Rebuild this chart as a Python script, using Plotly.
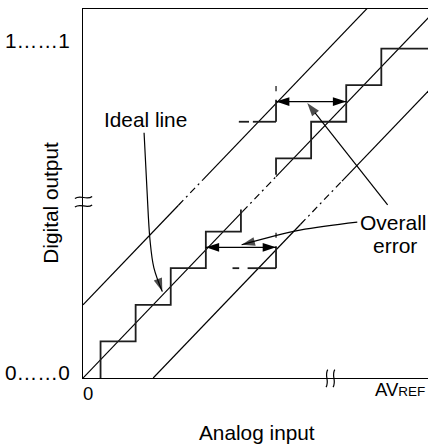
import plotly.graph_objects as go

# ---- axis extent, in LSB (x) and output codes (y) ----
X_MAX = 9.83
Y_MAX = 10.08

# ---- ideal conversion staircase: code k is entered at input k - 0.5 LSB ----
low_step_x = [0.5, 1.5, 2.5, 3.5, 4.5, 4.5]
low_step_code = [0, 1, 2, 3, 4, 4.6]
high_step_x = [5.5, 6.5, 7.5, 8.5, 10.5]
high_step_code = [5.55, 6, 7, 8, 9]

# ---- transfer lines: ideal and the +/- overall error limits (LSB offsets) ----
line_offsets = [0, 2, -2]
# input range (LSB) over which each line is drawn broken (axis break zone)
break_spans = [(4.55, 5.5), (2.72, 3.42), (6.2, 7.38)]

# ---- overall error brackets: (code level, from input, to input) ----
error_brackets = [(7.55, 5.5, 7.5), (3.57, 3.5, 5.5)]

# ---- shifted stair corners illustrating the error: (code, dash, solid, riser, tick) ----
shifted_corners = [
    (7, (4.44, 4.73), (4.84, 5.5), (7.0, 7.6), (7.83, 7.98)),
    (3, (4.26, 4.45), (4.69, 5.5), (3.0, 3.6), (3.83, 3.97)),
]
corner_x = 5.5

# ---- callout leader paths ----
ideal_callout_x = [1.74, 1.823, 1.909, 2.02, 2.26]
ideal_callout_y = [6.70, 5.14, 3.77, 3.01, 2.36]
error_callout1_x = [8.68, 6.39]
error_callout1_y = [4.73, 7.51]
error_callout2_x = [7.815, 6.18, 4.52]
error_callout2_y = [4.26, 4.04, 3.64]

FONT = "Liberation Sans, Arial, Helvetica, sans-serif"
INK = "black"
STAIR = "#1e1e1e"

fig = go.Figure()


def seg(x, y, dash="solid", width=1.2, color=INK):
    fig.add_trace(go.Scatter(x=x, y=y, mode="lines",
                             line=dict(color=color, width=width, dash=dash),
                             hoverinfo="skip"))


# transfer lines
for off, (b0, b1) in zip(line_offsets, break_spans):
    x_start = max(0.0, -off)
    x_end = 12.0
    seg([x_start, b0], [x_start + off, b0 + off])
    seg([b0, b1], [b0 + off, b1 + off], dash="7px,4px,2px,4px")
    seg([b1, x_end], [b1 + off, x_end + off])

# ideal staircase
fig.add_trace(go.Scatter(x=low_step_x, y=low_step_code, mode="lines",
                         line=dict(color=STAIR, width=1.8, shape="vh"), hoverinfo="skip"))
fig.add_trace(go.Scatter(x=high_step_x, y=high_step_code, mode="lines",
                         line=dict(color=STAIR, width=1.8, shape="vh"), hoverinfo="skip"))

# shifted stair corners
for code, dash_span, solid_span, riser, tick in shifted_corners:
    seg(list(dash_span), [code, code], width=1.8, color=STAIR)
    seg(list(solid_span), [code, code], width=1.8, color=STAIR)
    seg([corner_x, corner_x], list(riser), width=1.8, color=STAIR)
    seg([corner_x, corner_x], list(tick), width=1.3, color=STAIR)

# overall error double arrows
for level, x0, x1 in error_brackets:
    fig.add_trace(go.Scatter(
        x=[x0, x1], y=[level, level], mode="lines+markers",
        line=dict(color=INK, width=1.3),
        marker=dict(symbol="arrow", size=14, angle=[-90, 90], color=INK,
                    line=dict(width=0)),
        hoverinfo="skip"))


def callout(xs, ys, spline=False):
    sizes = [0] * (len(xs) - 1) + [14]
    fig.add_trace(go.Scatter(
        x=xs, y=ys, mode="lines+markers",
        line=dict(color=INK, width=1.2, shape="spline" if spline else "linear"),
        marker=dict(symbol="arrow", size=sizes, angleref="previous", color=INK,
                    line=dict(width=0)),
        hoverinfo="skip", cliponaxis=False))


callout(ideal_callout_x, ideal_callout_y, spline=True)
callout(error_callout1_x, error_callout1_y)
callout(error_callout2_x, error_callout2_y, spline=True)


# domain fractions, so marks and labels may sit outside the plot area
def dom_x(v):
    return v / X_MAX


def dom_y(v):
    return v / Y_MAX


shapes = []
for yc in (4.93, 4.70):
    x0, x1 = dom_x(-0.23), dom_x(0.26)
    xm1, xm2 = dom_x(-0.07), dom_x(0.10)
    a = 0.09
    shapes.append(dict(
        type="path", xref="x domain", yref="y domain",
        path=f"M{x0},{dom_y(yc - a * 0.3)} C{xm1},{dom_y(yc + a)} {xm2},{dom_y(yc - a)} {x1},{dom_y(yc + a * 0.3)}",
        line=dict(color=INK, width=1.2)))
for xc in (6.95, 7.15):
    y0, y1 = dom_y(-0.25), dom_y(0.23)
    ym1, ym2 = dom_y(-0.08), dom_y(0.07)
    a = 0.08
    shapes.append(dict(
        type="path", xref="x domain", yref="y domain",
        path=f"M{dom_x(xc - a * 0.3)},{y0} C{dom_x(xc + a)},{ym1} {dom_x(xc - a)},{ym2} {dom_x(xc + a * 0.3)},{y1}",
        line=dict(color=INK, width=1.2)))


def label(text, x, y, size=20.8, xanchor="center", angle=0):
    return dict(text=text, x=dom_x(x), y=dom_y(y), xref="x domain", yref="y domain",
                showarrow=False, xanchor=xanchor, yanchor="middle", textangle=angle,
                font=dict(family=FONT, size=size, color=INK))


annotations = [
    label("Ideal line", 1.78, 7.06),
    label("Overall", 8.86, 4.25, size=21),
    label("error", 8.90, 3.61, size=21),
    label("Digital output", -0.93, 4.80, angle=-90),
    label("Analog input", 4.97, -1.50),
    label("0", 0.14, -0.41, size=18.5),
    label("AV<span style='font-size:13.5px'>REF</span>", 9.80, -0.317, size=18.5, xanchor="right"),
    label("0……0", -0.30, 0.15, xanchor="right"),
    label("1……1", -0.30, 9.23, xanchor="right"),
]

fig.update_layout(
    width=428, height=446,
    margin=dict(l=83, r=0, t=9, b=68),
    paper_bgcolor="white", plot_bgcolor="white",
    showlegend=False,
    xaxis=dict(range=[0, X_MAX], showgrid=False, zeroline=False, showticklabels=False,
               ticks="", showline=True, mirror=True, linecolor=INK, linewidth=1.3,
               fixedrange=True),
    yaxis=dict(range=[0, Y_MAX], showgrid=False, zeroline=False, showticklabels=False,
               ticks="", showline=True, mirror=False, linecolor=INK, linewidth=1.3,
               fixedrange=True),
    shapes=shapes,
    annotations=annotations,
)

fig.write_html("out.html")
